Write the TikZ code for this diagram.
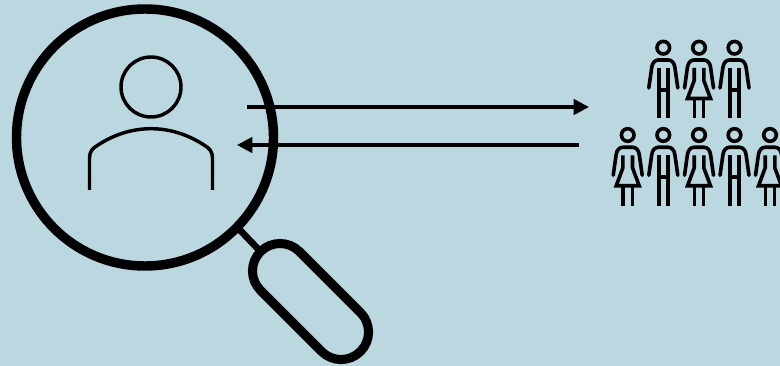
\documentclass[tikz,border=0pt]{standalone}
\usetikzlibrary{arrows.meta}
\definecolor{bgblue}{HTML}{BBD7E0}
\tikzset{
 person/.style={line width=2.7pt,line join=miter},
 conn/.style={line width=2.6pt,-{Triangle[length=11.5pt,width=11.5pt]}},
 pics/manicon/.style={code={
  \draw[person] (0,-15.8) circle[radius=6.3];
  \draw[person,line cap=round] (-14.5,24.5) -- (-11.6,4) .. controls (-11,-1) and (-8,-3.5) .. (-5,-3.5) -- (5,-3.5) .. controls (8,-3.5) and (11,-1) .. (11.6,4) -- (14.5,24.5);
  \draw[person] (-4.6,4.5) -- (-4.6,55) (4.6,4.5) -- (4.6,55) (-4.6,26.5) -- (4.6,26.5);
 }},
 pics/womanicon/.style={code={
  \draw[person] (0,-15.8) circle[radius=6.3];
  \draw[person,line cap=round] (-14.5,24.5) -- (-11.6,4) .. controls (-11,-1) and (-8,-3.5) .. (-5,-3.5) -- (5,-3.5) .. controls (8,-3.5) and (11,-1) .. (11.6,4) -- (14.5,24.5);
  \draw[person] (-4.8,4.5) -- (-4.8,17) -- (-11.5,35) -- (11.5,35) -- (4.8,17) -- (4.8,4.5);
  \draw[person] (-4.6,35) -- (-4.6,55) (4.6,35) -- (4.6,55);
 }}
}
\begin{document}
\begin{tikzpicture}[x=0.75pt,y=-0.75pt]
\useasboundingbox[fill=bgblue] (0,0) rectangle (780,366);
% lens
\node[circle,draw=black,line width=7.1pt,minimum size=192.75pt,inner sep=0pt,outer sep=0pt] (lens) at (145,137.5) {};
% handle
\coordinate (rodA) at (238,228);
\coordinate (rodB) at (260,251);
\draw[line width=5pt] (rodA) -- (rodB);
\draw[line width=6.8pt,line join=round,rotate around={-45:(280,271)}]
  (280,271) ++(0,-27.5) -- ++(86.3,0) arc[start angle=-90,end angle=90,radius=27.5] -- ++(-86.3,0) arc[start angle=90,end angle=270,radius=27.5] -- cycle;
% user
\node[circle,draw=black,line width=2.6pt,minimum size=45pt,inner sep=0pt] (head) at (151,87) {};
\coordinate (bodyL) at (89.5,190);
\coordinate (bodyR) at (212.5,190);
\draw[line width=2.6pt,line join=round] (bodyL) -- (89.5,158) .. controls (89.5,151) and (93,148) .. (98,145) .. controls (115,134) and (133,128.7) .. (151,128.7) .. controls (169,128.7) and (187,134) .. (204,145) .. controls (209,148) and (212.5,151) .. (212.5,158) -- (bodyR);
% arrows
\coordinate (a1) at (247,107); \coordinate (a2) at (589,107);
\coordinate (b1) at (579,145); \coordinate (b2) at (237,145);
\draw[conn] (a1) -- (a2);
\draw[conn] (b1) -- (b2);
% people
\pic at (663.3,63.5) {manicon};
\pic at (699,63.5) {womanicon};
\pic at (734.5,63.5) {manicon};
\pic at (627.7,150.8) {womanicon};
\pic at (663.3,150.8) {manicon};
\pic at (699,150.8) {womanicon};
\pic at (734.5,150.8) {manicon};
\pic at (770,150.8) {womanicon};
\end{tikzpicture}
\end{document}
